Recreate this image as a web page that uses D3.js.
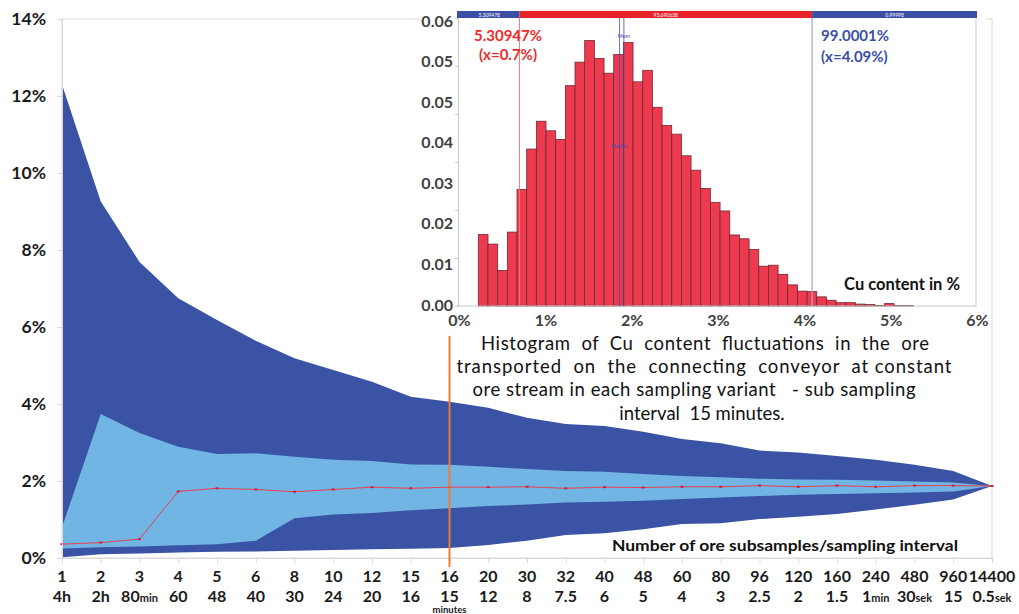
<!DOCTYPE html>
<html>
<head>
<meta charset="utf-8">
<script src="https://cdn.jsdelivr.net/npm/d3@7"></script>
<style>
  body { margin: 0; background: #fff; }
  text { font-family: Lato, "Open Sans", sans-serif; }
</style>
</head>
<body>
<script>
// number of ore subsamples (first row of x labels)
var categories = ["1","2","3","4","5","6","8","10","12","15","16","20","30","32","40","48","60","80","96","120","160","240","480","960","14400"];
// sampling interval (second row), unit written small after the number
var intervalMain = ["4h","2h","80","60","48","40","30","24","20","16","15","12","8","7.5","6","5","4","3","2.5","2","1.5","1","30","15","0.5"];
var intervalUnit = ["","","min","","","","","","","","","","","","","","","","","","","min","sek","","sek"];

// Cu content in % for each variant
var maxCu      = [12.3,9.26,7.69,6.75,6.18,5.64,5.19,4.88,4.58,4.19,4.06,3.90,3.64,3.48,3.43,3.28,3.09,2.98,2.79,2.74,2.65,2.55,2.42,2.26,1.87];
var upperInner = [0.8,3.74,3.25,2.89,2.70,2.72,2.63,2.55,2.52,2.43,2.42,2.37,2.31,2.26,2.24,2.18,2.13,2.10,2.06,2.04,2.03,2.01,1.99,1.96,1.87];
var meanCu     = [0.36,0.40,0.49,1.73,1.81,1.78,1.72,1.78,1.84,1.81,1.84,1.84,1.85,1.81,1.84,1.83,1.85,1.85,1.88,1.85,1.88,1.85,1.88,1.88,1.87];
var lowerInner = [0.25,0.28,0.30,0.33,0.36,0.45,1.03,1.13,1.17,1.24,1.29,1.35,1.39,1.44,1.46,1.49,1.53,1.57,1.61,1.64,1.66,1.68,1.70,1.73,1.87];
var minCu      = [0.02,0.10,0.12,0.14,0.16,0.17,0.19,0.21,0.23,0.24,0.26,0.34,0.45,0.60,0.64,0.75,0.88,0.90,1.01,1.07,1.14,1.26,1.38,1.52,1.87];
var yTicks = [0,2,4,6,8,10,12,14];
var highlightCategory = "16";
var highlightTop = 5.77;

// histogram of Cu content (sub sampling interval 15 minutes)
var binStart = 0.224;
var binWidth = 0.112;
var histFreq = [0.0149,0.0129,0.0074,0.0154,0.0243,0.0327,0.0385,0.0365,0.0347,0.0459,
  0.0508,0.0553,0.0516,0.0485,0.0524,0.0549,0.0467,0.0491,0.0414,0.0376,
  0.0358,0.0313,0.0283,0.0245,0.0216,0.0198,0.0148,0.0140,0.0118,0.0083,
  0.0085,0.0066,0.0044,0.0031,0.0030,0.0019,0.0012,0.0007,0.0007,0.0004,
  0.0003,0.0001,0.0005,0.0001,0.0001,null,0,null,0,null,0];
var histXTicks = [0,1,2,3,4,5,6];
var histYTicks = [0,0.01,0.02,0.03,0.04,0.05,0.06];
var histYLabels = ["0.06","0.05","0.05","0.04","0.03","0.02","0.01","0.00"];
var lowQuantile = {x: 0.7, pct: "5.30947%", strip: "5.309478"};
var highQuantile = {x: 4.09, pct: "99.0001%", strip: "0.99998"};
var middleStrip = "93.690638";
var meanX = 1.91, medianX = 1.86;
var captionLines = [
  "Histogram  of  Cu  content  fluctuations  in  the  ore",
  "transported  on  the  connecting  conveyor  at constant",
  "ore stream in each sampling variant   - sub sampling",
  "interval  15 minutes."
];

var width = 1019, height = 614;
var darkBlue = "#3A53A4", lightBlue = "#70B5E3", red = "#E8404F";

var svg = d3.select("body").append("svg")
  .attr("width", width)
  .attr("height", height);

// ---------- main chart ----------
var x = d3.scalePoint().domain(categories).range([62, 992]);
var y = d3.scaleLinear().domain([0, 14]).range([558, 19]);

var rows = categories.map(function (c, i) {
  return {c: c, max: maxCu[i], up: upperInner[i], mean: meanCu[i], low: lowerInner[i], min: minCu[i]};
});

svg.append("rect")
  .attr("x", 62).attr("y", 19)
  .attr("width", 930).attr("height", 539)
  .attr("fill", "none")
  .attr("stroke", "#d9d9d9");

var outerArea = d3.area()
  .x(d => x(d.c))
  .y0(d => y(d.min))
  .y1(d => y(d.max));
var innerArea = d3.area()
  .x(d => x(d.c))
  .y0(d => y(d.low))
  .y1(d => y(d.up));

svg.append("path").datum(rows).attr("d", outerArea).attr("fill", darkBlue);
svg.append("path").datum(rows).attr("d", innerArea).attr("fill", lightBlue);

svg.append("path").datum(rows)
  .attr("d", d3.line().x(d => x(d.c)).y(d => y(d.mean)))
  .attr("fill", "none")
  .attr("stroke", red)
  .attr("stroke-width", 1);
svg.selectAll(".meanDot").data(rows).enter().append("rect")
  .attr("x", d => x(d.c) - 1.5)
  .attr("y", d => y(d.mean) - 1)
  .attr("width", 3).attr("height", 2)
  .attr("fill", "#d02040");

// y axis
var leftAxis = d3.axisLeft(y).tickValues(yTicks).tickSize(5).tickFormat(d => d + "%");
var gy = svg.append("g").attr("transform", "translate(62,0)").call(leftAxis);
gy.select(".domain").attr("stroke", "#d9d9d9");
gy.selectAll(".tick line").attr("stroke", "#d9d9d9");
gy.selectAll(".tick text")
  .attr("x", -16)
  .attr("font-size", 17.5)
  .attr("font-weight", 700)
  .attr("fill", "#1a1a1a")
  .attr("font-family", "Lato, sans-serif");

// x axis
var bottomAxis = d3.axisBottom(x).tickSize(5).tickFormat("");
var gx = svg.append("g").attr("transform", "translate(0,558)").call(bottomAxis);
gx.select(".domain").attr("stroke", "#d9d9d9");
gx.selectAll(".tick line").attr("stroke", "#d9d9d9");

svg.selectAll(".xlab1").data(categories).enter().append("text")
  .attr("x", d => x(d))
  .attr("y", 582)
  .attr("text-anchor", "middle")
  .attr("font-size", 16)
  .attr("font-weight", 700)
  .attr("fill", "#1a1a1a")
  .text(d => d);

var lab2 = svg.selectAll(".xlab2").data(categories).enter().append("text")
  .attr("x", d => x(d))
  .attr("y", 602)
  .attr("text-anchor", "middle")
  .attr("font-size", 16)
  .attr("font-weight", 700)
  .attr("fill", "#1a1a1a");
lab2.append("tspan").text((d, i) => intervalMain[i]);
lab2.append("tspan").attr("font-size", 11).text((d, i) => intervalUnit[i]);

svg.append("text")
  .attr("x", x(highlightCategory))
  .attr("y", 613)
  .attr("text-anchor", "middle")
  .attr("font-size", 9.5)
  .attr("font-weight", 700)
  .attr("fill", "#1a1a1a")
  .text("minutes");

svg.append("line")
  .attr("x1", x(highlightCategory)).attr("x2", x(highlightCategory))
  .attr("y1", y(highlightTop)).attr("y2", y(0) + 9)
  .attr("stroke", "#ED7D31")
  .attr("stroke-width", 2);

svg.append("text")
  .attr("x", 785)
  .attr("y", 551)
  .attr("text-anchor", "middle")
  .attr("font-size", 16)
  .attr("font-weight", 700)
  .attr("fill", "#111")
  .attr("textLength", 346)
  .attr("lengthAdjust", "spacingAndGlyphs")
  .text("Number of ore subsamples/sampling interval");

// ---------- inset histogram ----------
svg.append("rect")
  .attr("x", 421).attr("y", 0)
  .attr("width", 565).attr("height", 330)
  .attr("fill", "#fff");

var hx = d3.scaleLinear().domain([0, 6]).range([459, 977]);
var hy = d3.scaleLinear().domain([0, 0.06]).range([306, 18]);

// plot frame
svg.append("line").attr("x1", hx(6) - 1).attr("x2", hx(6) - 1).attr("y1", 18).attr("y2", 306)
  .attr("stroke", "#c8cbe0");
var hAxisY = d3.axisLeft(hy).tickValues(histYTicks).tickSize(3).tickFormat("");
var hgy = svg.append("g").attr("transform", "translate(458,0)").call(hAxisY);
hgy.select(".domain").attr("stroke", "#c8c8c8");
hgy.selectAll(".tick line").attr("stroke", "#c8c8c8");

var hyLab = d3.scalePoint().domain(d3.range(histYLabels.length)).range([21, 305]);
svg.selectAll(".hylab").data(histYLabels).enter().append("text")
  .attr("x", 453)
  .attr("y", (d, i) => hyLab(i))
  .attr("dy", "0.35em")
  .attr("text-anchor", "end")
  .attr("font-size", 16)
  .attr("font-weight", 700)
  .attr("fill", "#404040")
  .text(d => d);

var bins = histFreq.map(function (f, i) {
  return {x0: binStart + i * binWidth, x1: binStart + (i + 1) * binWidth, f: f};
}).filter(d => d.f !== null);

svg.selectAll(".bar").data(bins).enter().append("rect")
  .attr("x", d => hx(d.x0))
  .attr("y", d => hy(d.f))
  .attr("width", d => hx(d.x1) - hx(d.x0))
  .attr("height", d => hy(0) - hy(d.f))
  .attr("fill", "#EE3A4F")
  .attr("stroke", d => d.f === 0 ? "#999" : "#6d2a34")
  .attr("stroke-width", 0.8);

var hAxisX = d3.axisBottom(hx).tickValues(histXTicks).tickSize(0).tickFormat(d => d + "%");
var hgx = svg.append("g").attr("transform", "translate(0,306)").call(hAxisX);
hgx.select(".domain").attr("stroke", "#c8c8c8").attr("d", "M458,0H977");
hgx.selectAll(".tick text")
  .attr("y", 9)
  .attr("font-size", 16)
  .attr("font-weight", 700)
  .attr("fill", "#404040")
  .attr("font-family", "Lato, sans-serif");

// quantile lines
svg.append("line").attr("x1", hx(lowQuantile.x)).attr("x2", hx(lowQuantile.x))
  .attr("y1", 18).attr("y2", 306).attr("stroke", "#f07a7a").attr("stroke-width", 1);
svg.append("line").attr("x1", hx(highQuantile.x)).attr("x2", hx(highQuantile.x))
  .attr("y1", 18).attr("y2", 306).attr("stroke", "#a5a9d6").attr("stroke-width", 1.2);
[meanX, medianX].forEach(function (v) {
  svg.append("line").attr("x1", hx(v)).attr("x2", hx(v))
    .attr("y1", 18).attr("y2", 306).attr("stroke", "#4a4aa8").attr("stroke-width", 0.8);
});
svg.append("text").attr("x", hx(meanX)).attr("y", 38).attr("text-anchor", "middle")
  .attr("font-size", 5).attr("fill", "#4a4aa8").text("Mean");
svg.append("text").attr("x", hx(medianX)).attr("y", 148).attr("text-anchor", "middle")
  .attr("font-size", 5).attr("fill", "#4a4aa8").text("Median");

// strip on top
var strip = [
  {a: 0, b: lowQuantile.x, fill: "#3A4FA5", t: lowQuantile.strip},
  {a: lowQuantile.x, b: highQuantile.x, fill: "#E82228", t: middleStrip},
  {a: highQuantile.x, b: 6, fill: "#3A4FA5", t: highQuantile.strip}
];
svg.selectAll(".strip").data(strip).enter().append("rect")
  .attr("x", d => hx(d.a) - (d.a === 0 ? 2 : 0))
  .attr("y", 11)
  .attr("width", d => hx(d.b) - hx(d.a) + (d.a === 0 ? 2 : 0))
  .attr("height", 7)
  .attr("fill", d => d.fill);
svg.selectAll(".stripText").data(strip).enter().append("text")
  .attr("x", d => (hx(d.a) + hx(d.b)) / 2)
  .attr("y", 16.5)
  .attr("text-anchor", "middle")
  .attr("font-size", 5)
  .attr("fill", "#fff")
  .text(d => d.t);

svg.append("text").attr("x", 508).attr("y", 41).attr("text-anchor", "middle")
  .attr("font-size", 15).attr("font-weight", 700).attr("fill", "#EE2B2B")
  .text(lowQuantile.pct);
svg.append("text").attr("x", 508).attr("y", 60).attr("text-anchor", "middle")
  .attr("font-size", 15).attr("font-weight", 700).attr("fill", "#EE2B2B")
  .text("(x=" + lowQuantile.x + "%)");
svg.append("text").attr("x", 821).attr("y", 41)
  .attr("font-size", 15).attr("font-weight", 700).attr("fill", "#3A4FA5")
  .text(highQuantile.pct);
svg.append("text").attr("x", 821).attr("y", 62)
  .attr("font-size", 15).attr("font-weight", 700).attr("fill", "#3A4FA5")
  .text("(x=" + highQuantile.x + "%)");

svg.append("text").attr("x", 902).attr("y", 290).attr("text-anchor", "middle")
  .attr("font-size", 16.5).attr("font-weight", 700).attr("fill", "#111")
  .text("Cu content in %");

// caption
var captionX = [705, 704, 694, 702];
var captionY = [350, 373, 396, 420];
var captionW = [448, 495, 443, null];
captionLines.forEach(function (t, i) {
  var el = svg.append("text")
    .attr("x", captionX[i])
    .attr("y", captionY[i])
    .attr("text-anchor", "middle")
    .attr("font-size", 18.5)
    .attr("fill", "#111")
    .attr("xml:space", "preserve")
    .style("white-space", "pre")
    .text(t);
  if (captionW[i]) el.attr("textLength", captionW[i]).attr("lengthAdjust", "spacing");
});
</script>
</body>
</html>
